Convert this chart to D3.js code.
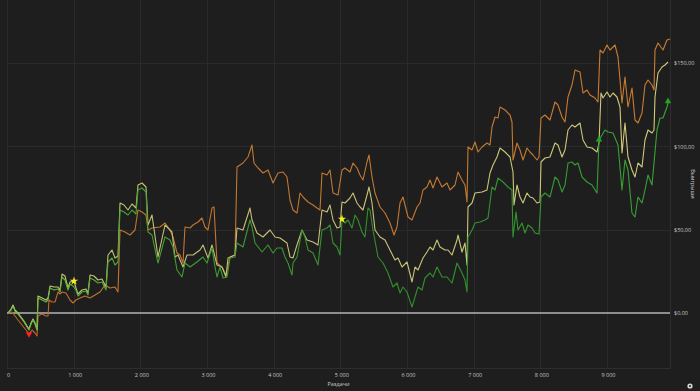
<!DOCTYPE html>
<html>
<head>
<meta charset="utf-8">
<script src="https://cdn.jsdelivr.net/npm/d3@7"></script>
<style>
  html, body { margin: 0; padding: 0; background: #1e1e1e; }
  #chartDiv { width: 700px; height: 391px; }
  text { font-family: "Open Sans", "Noto Sans", sans-serif; }
</style>
</head>
<body>
<div id="chartDiv"></div>
<script>
// data: [hands, winnings $]
var orangeData = [[0,0],[60,0.6],[105,-1.8],[150,-4.2],[210,-7.2],[270,-10.2],[315,-12.6],[360,-10.2],[405,-12],[435,-13.8],
  [450,-1.8],[510,-0.6],[570,-1.8],[600,-1.8],[615,7.8],[660,6.6],[705,6.6],[750,12.6],[780,11.4],[810,12.6],[870,12],
  [930,7.8],[975,6],[1020,7.8],[1080,9],[1155,10.2],[1230,9],[1305,10.8],[1380,12.6],[1455,16.8],[1530,15],[1605,15.6],
  [1650,12.6],[1680,49.8],[1755,48.6],[1830,46.8],[1905,49.8],[1950,61.8],[2010,60.6],[2070,58.8],[2100,49.8],[2160,51],
  [2280,51.6],[2355,54],[2430,49.8],[2475,45.6],[2535,36],[2580,34.8],[2625,30],[2655,51.6],[2730,51],[2775,52.8],
  [2850,54.6],[2910,57],[2955,51.6],[3000,49.8],[3060,63],[3090,63.6],[3135,30],[3210,27.6],[3270,22.8],[3330,33.6],
  [3405,34.8],[3435,87.6],[3525,90],[3600,93.6],[3660,100.8],[3690,90],[3750,87],[3825,84],[3900,85.8],[3975,78],
  [4050,84],[4125,84.6],[4185,81.6],[4230,67.8],[4275,61.8],[4335,60],[4380,72],[4425,69.6],[4500,66.6],[4575,64.8],
  [4635,63],[4680,61.8],[4710,84],[4785,82.8],[4830,85.8],[4875,72],[4950,70.8],[5010,85.8],[5055,87],[5130,84.6],
  [5175,90],[5235,87],[5280,82.8],[5325,79.8],[5385,90.6],[5415,94.8],[5460,81.6],[5505,72],[5580,63.6],[5655,60],
  [5730,54],[5790,46.8],[5835,51.6],[5880,66],[5925,69.6],[6000,57.6],[6060,55.8],[6135,63.6],[6180,66],[6225,73.8],
  [6285,75.6],[6330,79.8],[6375,75],[6435,81.6],[6510,75.6],[6585,78],[6630,73.8],[6705,76.8],[6750,84.6],[6810,79.8],
  [6855,76.8],[6885,66.6],[6900,99.6],[6960,97.8],[7005,102.6],[7050,96.6],[7110,99.6],[7185,102],[7230,100.8],
  [7260,111.6],[7305,117.6],[7350,117],[7380,123.6],[7455,121.8],[7530,118.8],[7560,114.6],[7575,91.8],[7635,102],
  [7680,97.8],[7725,91.8],[7785,99],[7830,96.6],[7875,94.8],[7935,91.8],[7965,93.6],[7995,117],[8055,118.8],
  [8130,115.8],[8205,126.6],[8250,124.8],[8310,117.6],[8355,114.6],[8400,129.6],[8460,136.8],[8505,145.8],[8580,144.6],
  [8625,132],[8685,133.8],[8730,130.8],[8805,129],[8850,126.6],[8880,157.8],[8925,156],[8985,160.8],[9030,157.8],
  [9105,160.8],[9150,153.6],[9210,126],[9255,141.6],[9300,123.6],[9360,135],[9405,115.8],[9450,114],[9510,120],
  [9555,136.8],[9600,139.8],[9660,136.8],[9690,133.8],[9705,157.8],[9750,162],[9825,157.8],[9885,163.8],[9930,164.4]];

var yellowData = [[0,0],[45,2.4],[75,4.8],[105,1.8],[150,0],[195,-2.4],[240,-4.8],[285,-7.8],[315,-9.6],[345,-6],[375,-3.6],
  [405,-6],[435,-9.6],[450,10.2],[510,9],[570,7.8],[600,9],[630,16.2],[690,15.6],[750,15.6],[780,13.8],[810,23.4],
  [855,22.2],[900,15],[930,18.6],[990,19.2],[1020,15],[1050,11.4],[1110,13.8],[1170,14.4],[1200,12],[1230,22.8],
  [1290,22.2],[1350,19.8],[1410,20.4],[1470,15.6],[1500,34.8],[1560,37.8],[1605,33],[1650,34.2],[1680,66],[1740,64.8],
  [1800,61.8],[1860,65.4],[1920,63],[1950,76.8],[2010,78],[2070,75.6],[2100,52.8],[2160,58.8],[2250,33.6],[2355,52.8],
  [2460,48.6],[2505,33.6],[2550,34.8],[2625,27.6],[2685,34.8],[2775,34.8],[2880,37.8],[2925,40.8],[3000,33],[3060,40.8],
  [3135,28.8],[3210,27.6],[3270,21.6],[3300,33],[3405,34.8],[3435,51],[3525,49.8],[3630,63],[3660,55.8],[3735,48],
  [3825,45.6],[3930,49.8],[4005,45.6],[4080,45],[4185,42],[4230,33.6],[4275,33],[4335,40.8],[4410,49.8],[4485,43.8],
  [4575,42.6],[4650,40.8],[4710,61.8],[4785,60.6],[4830,64.8],[4875,55.8],[4935,51],[4980,51.6],[5010,66.6],[5055,66],
  [5130,69],[5175,72],[5235,66],[5280,63.6],[5325,61.8],[5385,70.8],[5415,75.6],[5460,66],[5505,49.8],[5580,45.6],
  [5655,43.8],[5730,37.8],[5805,31.8],[5850,33],[5910,27.6],[5985,30.6],[6060,18.6],[6105,27.6],[6150,25.8],[6225,33],
  [6285,36.6],[6330,39.6],[6375,37.8],[6435,43.8],[6480,39.6],[6555,37.8],[6600,37.8],[6660,34.8],[6735,43.8],
  [6750,46.8],[6810,36.6],[6855,42],[6885,28.8],[6900,63.6],[6960,66],[7005,72],[7110,72.6],[7185,73.8],[7230,84],
  [7275,88.8],[7335,93.6],[7380,99],[7455,96.6],[7530,93.6],[7575,84.6],[7590,64.8],[7635,76.8],[7680,69.6],[7725,66],
  [7785,72],[7830,69.6],[7875,69],[7935,66],[7980,66.6],[7995,90.6],[8055,93],[8130,93.6],[8205,102],[8250,100.8],
  [8310,93.6],[8355,97.8],[8400,109.8],[8460,112.8],[8505,111.6],[8580,114],[8625,103.8],[8685,99.6],[8760,99],
  [8835,96.6],[8865,102],[8895,132],[8925,129],[8985,132.6],[9030,129.6],[9075,132],[9135,129.6],[9180,123.6],
  [9210,96],[9255,114],[9300,93.6],[9360,85.8],[9405,81.6],[9450,90],[9510,87.6],[9555,103.8],[9600,109.8],[9660,108],
  [9690,109.8],[9705,129.6],[9750,144],[9810,147.6],[9855,148.8],[9900,150.6]];

var greenData = [[0,0],[45,1.8],[75,4.2],[105,1.2],[150,-0.6],[195,-3],[240,-5.4],[285,-8.4],[315,-10.2],[345,-6.6],
  [375,-4.2],[405,-6.6],[435,-10.2],[450,9],[510,7.8],[570,6.6],[600,7.8],[630,15],[690,13.8],[750,14.4],[780,12.6],
  [810,21.6],[855,19.8],[900,13.8],[930,17.4],[975,16.2],[1020,13.8],[1050,10.2],[1110,12.6],[1170,13.2],[1200,10.8],
  [1230,21],[1290,19.8],[1350,18],[1410,18.6],[1470,13.8],[1500,30.6],[1560,33],[1605,28.8],[1650,30.6],[1680,61.8],
  [1740,60.6],[1800,58.8],[1860,61.8],[1920,59.4],[1950,73.8],[2010,75],[2070,72.6],[2100,48.6],[2160,46.8],[2250,30],
  [2355,45.6],[2430,43.8],[2475,39.6],[2535,25.8],[2610,21.6],[2655,30],[2730,27.6],[2835,30.6],[2925,33.6],[2985,30],
  [3060,39],[3105,27.6],[3135,21.6],[3180,27.6],[3225,21],[3285,21.6],[3330,33],[3405,33.6],[3435,42],[3525,39.6],
  [3630,55.8],[3660,51.6],[3705,42],[3810,36.6],[3900,40.8],[3975,36],[4035,39],[4110,39],[4155,33.6],[4200,30],
  [4260,22.8],[4275,30],[4335,33.6],[4410,49.8],[4455,45.6],[4500,37.8],[4575,36],[4650,28.8],[4710,49.8],[4785,51],
  [4830,52.8],[4875,42],[4935,39.6],[4980,34.8],[5010,55.8],[5055,54],[5100,55.8],[5160,51],[5205,58.8],[5250,55.8],
  [5310,48.6],[5355,45.6],[5400,63],[5430,61.8],[5475,49.8],[5550,33.6],[5625,30],[5700,24],[5775,15.6],[5835,18],
  [5880,12],[5925,15.6],[5985,12.6],[6060,3.6],[6105,9.6],[6150,15.6],[6210,13.8],[6255,21],[6330,24],[6375,21.6],
  [6435,27.6],[6510,21.6],[6585,21.6],[6660,18],[6735,30],[6810,24],[6855,19.8],[6885,12.6],[6900,45.6],[6960,49.8],
  [7005,54],[7080,54.6],[7155,55.8],[7200,57],[7260,75.6],[7305,73.8],[7350,81],[7425,78.6],[7500,75.6],[7560,73.8],
  [7575,45.6],[7620,60.6],[7650,49.8],[7710,54],[7755,48],[7800,52.8],[7860,51],[7905,48],[7965,47.4],[7995,69.6],
  [8055,72],[8130,69.6],[8205,81.6],[8250,79.8],[8310,72.6],[8355,76.8],[8400,90],[8460,90.6],[8505,88.8],[8550,90],
  [8610,81.6],[8685,78.6],[8760,76.8],[8835,72],[8865,103.8],[8910,106.8],[8955,109.8],[9000,108.6],[9075,108],
  [9150,100.8],[9210,73.8],[9255,91.8],[9300,85.8],[9360,60],[9405,57.6],[9450,69.6],[9510,66],[9555,73.8],[9600,82.8],
  [9660,76.8],[9690,90],[9735,109.8],[9780,117],[9825,117],[9885,123.6],[9900,126]];

// markers: [hands, winnings, kind]
var markers = [[315,-12.6,"down"],[990,19.2,"star"],[5010,56.4,"star"],[8865,104,"up"],[9900,127,"up"]];

var xTicks = [0,1000,2000,3000,4000,5000,6000,7000,8000,9000];
var yTicks = [0,50,100,150];
var xTitle = "Раздачи";
var yTitle = "Выигрыши";

var svgWidth = 700, svgHeight = 391;
var plotLeft = 7, plotRight = 670, plotTop = 0, plotBottom = 368;

var svg = d3.select("#chartDiv").append("svg")
    .attr("width", svgWidth)
    .attr("height", svgHeight);

svg.append("rect").attr("width", svgWidth).attr("height", svgHeight).attr("fill", "#1e1e1e");

var xScale = d3.scaleLinear().domain([0, 9930]).range([8, plotRight]);
var yScale = d3.scaleLinear().domain([-33, 187.8]).range([plotBottom, plotTop]);

var fmtHands = function(d){ return d3.format(",")(d).replace(/,/g, " "); };
var fmtMoney = function(d){ return "$" + d3.format(".2f")(d).replace(".", ","); };

// grid
var grid = svg.append("g");
grid.selectAll("line.vx").data(xTicks).enter().append("line")
    .attr("x1", function(d){ return Math.round(xScale(d)) - 0.5; })
    .attr("x2", function(d){ return Math.round(xScale(d)) - 0.5; })
    .attr("y1", plotTop).attr("y2", plotBottom)
    .attr("stroke", "#2a2a2a").attr("stroke-width", 1);
grid.selectAll("line.hy").data(yTicks.slice(1)).enter().append("line")
    .attr("x1", plotLeft).attr("x2", plotRight)
    .attr("y1", function(d){ return Math.round(yScale(d)) + 0.5; })
    .attr("y2", function(d){ return Math.round(yScale(d)) + 0.5; })
    .attr("stroke", "#2a2a2a").attr("stroke-width", 1);
grid.append("line").attr("x1", plotLeft).attr("x2", plotRight + 0.5)
    .attr("y1", plotBottom + 0.5).attr("y2", plotBottom + 0.5).attr("stroke", "#2e2e2e");
grid.append("line").attr("x1", plotRight + 0.5).attr("x2", plotRight + 0.5)
    .attr("y1", plotTop).attr("y2", plotBottom).attr("stroke", "#2e2e2e");

// zero line
svg.append("line")
    .attr("x1", plotLeft).attr("x2", plotRight)
    .attr("y1", yScale(0)).attr("y2", yScale(0))
    .attr("stroke", "#b4b4b4").attr("stroke-width", 1.3);

// axes
var xAxis = svg.append("g")
    .attr("transform", "translate(0," + (plotBottom + 2) + ")")
    .call(d3.axisBottom(xScale).tickValues(xTicks).tickSize(0).tickFormat(fmtHands));
var yAxis = svg.append("g")
    .attr("transform", "translate(" + (plotRight + 1) + ",0)")
    .call(d3.axisRight(yScale).tickValues(yTicks).tickSize(0).tickFormat(fmtMoney));
[xAxis, yAxis].forEach(function(a){
    a.select(".domain").remove();
    a.selectAll("text").attr("fill", "#c8c8c8").style("font-size", "5.5px");
});

svg.append("text")
    .attr("x", (plotLeft + plotRight) / 2).attr("y", 386)
    .attr("text-anchor", "middle").attr("fill", "#c8c8c8").style("font-size", "5.5px")
    .text(xTitle);
svg.append("text")
    .attr("transform", "translate(691," + ((plotTop + plotBottom) / 2) + ") rotate(90)")
    .attr("text-anchor", "middle").attr("fill", "#c8c8c8").style("font-size", "5.5px")
    .text(yTitle);

// lines
var line = d3.line()
    .x(function(d){ return xScale(d[0]); })
    .y(function(d){ return yScale(d[1]); });

var defs = svg.append("defs");
function gradient(id, stops){
    var g = defs.append("linearGradient").attr("id", id)
        .attr("gradientUnits", "userSpaceOnUse")
        .attr("x1", plotLeft).attr("x2", plotRight).attr("y1", 0).attr("y2", 0);
    stops.forEach(function(s){
        g.append("stop").attr("offset", s[0]).attr("stop-color", s[1]);
    });
}
gradient("gOrange", [[0, "#c05a28"], [0.12, "#bf7430"], [1, "#c97c30"]]);
gradient("gYellow", [[0, "#bccb68"], [0.3, "#c4bd74"], [1, "#d0cb7c"]]);
gradient("gGreen", [[0, "#74c040"], [0.2, "#44a032"], [0.6, "#2f8c2a"], [1, "#38a436"]]);

var series = [
    { data: orangeData, stroke: "url(#gOrange)" },
    { data: yellowData, stroke: "url(#gYellow)" },
    { data: greenData, stroke: "url(#gGreen)" }
];

svg.append("g").selectAll("path")
    .data(series)
    .enter().append("path")
    .attr("d", function(d){ return line(d.data); })
    .attr("fill", "none")
    .attr("stroke", function(d){ return d.stroke; })
    .attr("stroke-width", 1.1)
    .attr("stroke-linejoin", "round");

// markers
var markerColor = { down: "#ff2020", star: "#f4f020", up: "#1fa81f" };
svg.append("g").selectAll("path")
    .data(markers)
    .enter().append("path")
    .attr("d", function(d){
        var t = d[2] == "star" ? d3.symbolStar : d3.symbolTriangle;
        return d3.symbol().type(t).size(d[2] == "star" ? 22 : 18)();
    })
    .attr("transform", function(d){
        return "translate(" + xScale(d[0]) + "," + yScale(d[1]) + ")" + (d[2] == "down" ? " rotate(180)" : "");
    })
    .attr("fill", function(d){ return markerColor[d[2]]; });

// small settings icon, bottom right
svg.append("circle").attr("cx", 690).attr("cy", 386).attr("r", 2.6).attr("fill", "#d8d8d8");
svg.append("circle").attr("cx", 690).attr("cy", 386).attr("r", 1).attr("fill", "#1e1e1e");
</script>
</body>
</html>
